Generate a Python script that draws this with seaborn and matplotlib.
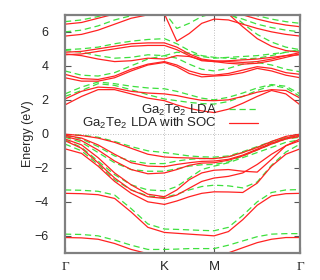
import numpy as np
import pandas as pd
import matplotlib
matplotlib.use("Agg")
import matplotlib.pyplot as plt
from matplotlib.lines import Line2D
import seaborn as sns

# k-path positions (Gamma - K - M - Gamma)
kpts = [0.0, 0.111, 0.222, 0.333, 0.444, 0.556, 0.667, 0.75, 0.833, 0.917,
        1.0, 1.096, 1.192, 1.289, 1.385, 1.481, 1.577]
tick_pos = [0.0, 0.667, 1.0, 1.577]
tick_lab = ["\u0393", "K", "M", "\u0393"]

# --- LDA bands (green dashed) ---
lda_v7 = [-5.9, -5.92, -6.0, -6.25, -6.55, -6.8, -6.8, -6.78, -6.75, -6.75, -6.75, -6.55, -6.3, -6.05, -5.9, -5.87, -5.87]
lda_v6 = [-3.3, -3.32, -3.38, -3.6, -4.4, -5.3, -5.6, -5.62, -5.65, -5.68, -5.7, -5.5, -4.8, -4.0, -3.45, -3.3, -3.28]
lda_v5 = [-0.6, -1.0, -1.8, -2.7, -3.3, -3.65, -3.75, -3.55, -3.3, -3.1, -3.02, -3.06, -3.18, -2.83, -1.85, -1.07, -0.6]
lda_v4 = [-0.35, -0.8, -1.6, -2.4, -3.0, -3.3, -3.35, -3.1, -2.6, -2.1, -1.9, -1.7, -1.4, -1.1, -0.8, -0.5, -0.35]
lda_v3 = [-0.2, -0.5, -1.1, -1.7, -2.1, -2.2, -2.2, -2.05, -1.9, -1.82, -1.8, -1.65, -1.3, -0.95, -0.6, -0.3, -0.2]
lda_v2 = [-0.1, -0.3, -0.75, -1.3, -1.6, -1.75, -1.75, -1.6, -1.5, -1.45, -1.45, -1.35, -1.1, -0.8, -0.5, -0.25, -0.1]
lda_v1 = [-0.05, -0.08, -0.2, -0.45, -0.75, -1.0, -1.1, -1.2, -1.3, -1.35, -1.37, -1.3, -1.05, -0.75, -0.45, -0.2, -0.05]
lda_c1 = [2.2, 2.55, 2.95, 2.85, 2.6, 2.3, 2.05, 1.95, 1.85, 1.78, 1.75, 1.9, 2.2, 2.55, 2.85, 2.7, 2.2]
lda_c2 = [2.35, 2.75, 3.05, 2.95, 2.8, 2.7, 2.65, 2.5, 2.3, 2.1, 2.0, 2.15, 2.4, 2.7, 2.9, 2.8, 2.35]
lda_c3 = [3.7, 3.45, 3.4, 3.6, 4.0, 4.4, 4.6, 4.45, 4.1, 3.8, 3.7, 3.85, 4.1, 4.2, 4.05, 3.8, 3.65]
lda_c4 = [4.9, 4.8, 4.6, 4.45, 4.5, 4.65, 4.6, 4.8, 4.75, 4.55, 4.45, 4.5, 4.55, 4.6, 4.7, 4.8, 4.9]
lda_c5 = [4.95, 5.0, 5.1, 5.3, 5.45, 5.55, 5.6, 5.3, 4.9, 4.6, 4.5, 4.45, 4.4, 4.45, 4.6, 4.8, 4.95]
lda_c6 = [6.0, 6.1, 6.35, 6.7, 6.95, 7.1, 7.15, 6.2, 6.5, 6.9, 7.1, 7.0, 6.75, 6.45, 6.25, 6.1, 6.0]
lda_c7 = [6.6, 6.7, 6.9, 7.2, 7.4, 7.5, 7.5, 7.4, 7.35, 7.35, 7.4, 7.2, 6.5, 5.85, 5.4, 5.1, 4.95]
lda_c8 = [7.6, 7.7, 7.8, 7.8, 7.8, 7.8, 7.8, 7.8, 7.8, 7.8, 7.7, 7.5, 7.2, 6.95, 6.75, 6.6, 6.5]

# --- LDA + SOC bands (red solid) ---
soc_v12 = [-6.1, -6.12, -6.2, -6.45, -6.8, -7.05, -7.2, -7.3, -7.3, -7.3, -7.3, -7.0, -6.7, -6.4, -6.2, -6.1, -6.1]
soc_v11 = [-3.5, -3.52, -3.58, -3.8, -4.6, -5.5, -5.8, -5.85, -5.9, -5.95, -6.0, -5.75, -5.05, -4.2, -3.65, -3.52, -3.5]
soc_v10 = [-0.88, -1.15, -1.9, -2.8, -3.5, -4.0, -4.15, -3.95, -3.7, -3.5, -3.41, -3.42, -3.45, -2.9, -1.9, -1.2, -0.88]
soc_v9 = [-0.4, -0.85, -1.7, -2.6, -3.3, -3.7, -3.8, -3.6, -3.2, -2.8, -2.6, -2.5, -2.3, -1.8, -1.2, -0.7, -0.4]
soc_v8 = [-0.3, -0.65, -1.4, -2.3, -3.0, -3.55, -3.7, -3.3, -2.7, -2.3, -2.14, -2.1, -2.2, -2.25, -1.5, -0.7, -0.3]
soc_v7 = [-0.15, -0.4, -0.95, -1.6, -2.1, -2.35, -2.3, -2.1, -1.85, -1.72, -1.7, -1.55, -1.3, -0.95, -0.6, -0.3, -0.15]
soc_v6 = [-0.08, -0.25, -0.65, -1.2, -1.7, -1.9, -1.93, -1.8, -1.7, -1.62, -1.6, -1.5, -1.25, -0.9, -0.55, -0.25, -0.08]
soc_v5 = [-0.02, -0.1, -0.25, -0.5, -0.85, -1.2, -1.36, -1.4, -1.42, -1.45, -1.46, -1.35, -1.1, -0.8, -0.45, -0.15, -0.02]
soc_c1 = [1.7, 2.2, 2.6, 2.6, 2.35, 2.1, 1.95, 1.7, 1.5, 1.35, 1.25, 1.45, 1.8, 2.2, 2.55, 2.35, 1.7]
soc_c2 = [2.05, 2.5, 2.75, 2.7, 2.5, 2.4, 2.35, 2.25, 2.1, 1.97, 1.95, 2.0, 2.2, 2.45, 2.6, 2.55, 2.1]
soc_c3 = [3.5, 3.25, 3.2, 3.4, 3.8, 4.1, 4.25, 4.05, 3.7, 3.5, 3.45, 3.55, 3.75, 3.95, 3.85, 3.6, 3.5]
soc_c4 = [3.3, 3.1, 3.1, 3.3, 3.7, 4.05, 4.2, 3.95, 3.55, 3.35, 3.4, 3.45, 3.6, 3.85, 3.7, 3.45, 3.3]
soc_c5 = [4.7, 4.6, 4.4, 4.25, 4.3, 4.45, 4.4, 4.6, 4.55, 4.35, 4.25, 4.3, 4.35, 4.4, 4.5, 4.6, 4.65]
soc_c6 = [4.8, 4.85, 5.0, 5.15, 5.3, 5.35, 5.35, 5.1, 4.7, 4.4, 4.3, 4.25, 4.2, 4.25, 4.4, 4.6, 4.78]
soc_c7 = [4.65, 4.7, 4.85, 5.0, 5.15, 5.2, 5.2, 4.95, 4.6, 4.3, 4.25, 4.15, 4.1, 4.15, 4.3, 4.5, 4.7]
soc_c8 = [5.75, 5.85, 6.1, 6.45, 6.8, 7.0, 7.05, 5.45, 5.9, 6.5, 6.75, 6.7, 6.45, 6.2, 6.0, 5.85, 5.75]
soc_c9 = [6.45, 6.55, 6.8, 7.05, 7.3, 7.4, 7.4, 7.3, 7.2, 7.2, 7.25, 7.05, 6.3, 5.6, 5.15, 4.9, 4.8]
soc_c10 = [7.5, 7.6, 7.7, 7.7, 7.7, 7.7, 7.7, 7.7, 7.7, 7.7, 7.6, 7.4, 7.0, 6.75, 6.55, 6.4, 6.3]

lda_bands = [lda_v7, lda_v6, lda_v5, lda_v4, lda_v3, lda_v2, lda_v1,
             lda_c1, lda_c2, lda_c3, lda_c4, lda_c5, lda_c6, lda_c7, lda_c8]
soc_bands = [soc_v12, soc_v11, soc_v10, soc_v9, soc_v8, soc_v7, soc_v6, soc_v5,
             soc_c1, soc_c2, soc_c3, soc_c4, soc_c5, soc_c6, soc_c7, soc_c8,
             soc_c9, soc_c10]

rows = []
for calc, bands in [("LDA", lda_bands), ("SOC", soc_bands)]:
    for i, b in enumerate(bands):
        for k, e in zip(kpts, b):
            rows.append({"k": k, "E": e, "band": f"{calc}{i}", "calc": calc})
df = pd.DataFrame(rows)

sns.set_style("ticks")
plt.rcParams["font.family"] = ["Liberation Sans", "DejaVu Sans"]
plt.rcParams["mathtext.default"] = "regular"

green = "#3ee03e"
red = "#ff2222"
dash = (0, (5, 3))

fig = plt.figure(figsize=(3.2, 2.8), dpi=100)
ax = fig.add_axes([0.203, 0.097, 0.735, 0.85])

ax.axvline(0.667, color="#aaaaaa", lw=0.6, ls=(0, (1, 2)), zorder=0)
ax.axvline(1.0, color="#aaaaaa", lw=0.6, ls=(0, (1, 2)), zorder=0)
ax.axhline(0.0, color="#aaaaaa", lw=0.6, ls=(0, (1, 2)), zorder=0)

sns.lineplot(data=df[df.calc == "LDA"], x="k", y="E", units="band", estimator=None,
             color=green, lw=0.9, ax=ax, legend=False, sort=False, linestyle=dash)
sns.lineplot(data=df[df.calc == "SOC"], x="k", y="E", units="band", estimator=None,
             color=red, lw=0.9, ax=ax, legend=False, sort=False)

ax.set_xlim(0, 1.577)
ax.set_ylim(-7, 7)
ax.set_xticks(tick_pos)
ax.set_xticklabels(tick_lab)
for t in ax.get_xticklabels():
    if t.get_text() == "\u0393":
        t.set_fontfamily("Liberation Serif")
ax.set_yticks([-6, -4, -2, 0, 2, 4, 6])
ax.tick_params(axis="y", direction="in", length=4, width=0.8, pad=12,
               labelsize=9, right=True, color="#555555")
ax.tick_params(axis="x", direction="in", length=4, width=0.8, pad=6,
               labelsize=9.5, top=True, color="#555555")
ax.set_xlabel("")
ax.set_ylabel("Energy (eV)", fontsize=9, labelpad=0)
for s in ax.spines.values():
    s.set_color("#808080")
    s.set_linewidth(1.6)

handles = [Line2D([], [], color=green, lw=0.9, ls=dash),
           Line2D([], [], color=red, lw=0.9)]
labels = ["Ga$_2$Te$_2$ LDA", "Ga$_2$Te$_2$ LDA with SOC"]
ax.legend(handles, labels, loc="upper right", bbox_to_anchor=(0.82, 0.632),
          frameon=False, markerfirst=False, fontsize=9.5, handlelength=2.2,
          handletextpad=0.9, labelspacing=-0.1, borderpad=0, borderaxespad=0)

fig.savefig("out.png", dpi=100)
